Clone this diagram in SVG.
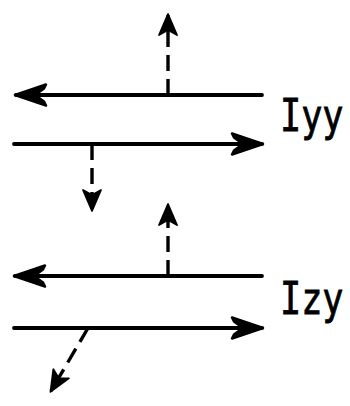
<svg xmlns="http://www.w3.org/2000/svg" width="350" height="406" viewBox="0 0 350 406">
<style>
.ln{fill:none;stroke:#000;stroke-width:3.8;stroke-linecap:round}
.ds{fill:none;stroke:#000;stroke-width:3.4;stroke-dasharray:16 8}
.lb{font-family:"DejaVu Sans Mono","Liberation Mono",monospace;font-size:44px;fill:#000;stroke:#000;stroke-width:0.8}
</style>
<defs>
<marker id="big" markerUnits="userSpaceOnUse" markerWidth="40" markerHeight="30" viewBox="-34 -15 40 30" refX="0" refY="0" orient="auto" overflow="visible">
<path d="M1,0 L-30,-10.5 L-28,-6.5 L-19,0 L-28,6.5 L-30,10.5 Z" fill="#000" stroke="#000" stroke-width="2.5" stroke-linejoin="round"/>
</marker>
<marker id="small" markerUnits="userSpaceOnUse" markerWidth="30" markerHeight="24" viewBox="-24 -12 30 24" refX="0" refY="0" orient="auto" overflow="visible">
<path d="M1,0 L-20,-9 L-15,0 L-20,9 Z" fill="#000" stroke="#000" stroke-width="1.8" stroke-linejoin="round"/>
</marker>
</defs>
<g id="connectors">
<path class="ln" d="M262,95 L16,95" marker-end="url(#big)"/>
<path class="ln" d="M14,144 L262,144" marker-end="url(#big)"/>
<path class="ds" d="M168,95 L168,15" marker-end="url(#small)"/>
<path class="ds" d="M92,144 L92,210" marker-end="url(#small)"/>
<path class="ln" d="M262,276 L15,276" marker-end="url(#big)"/>
<path class="ln" d="M14,328 L262,328" marker-end="url(#big)"/>
<path class="ds" d="M168,276 L168,205" marker-end="url(#small)"/>
<path class="ds" d="M88,328 L51,391" marker-end="url(#small)"/>
</g>
<g id="label-Iyy" transform="translate(280,131) scale(0.8,1)"><text class="lb" x="0" y="0">Iyy</text></g>
<g id="label-Izy" transform="translate(280,314) scale(0.8,1)"><text class="lb" x="0" y="0">Izy</text></g>
</svg>
